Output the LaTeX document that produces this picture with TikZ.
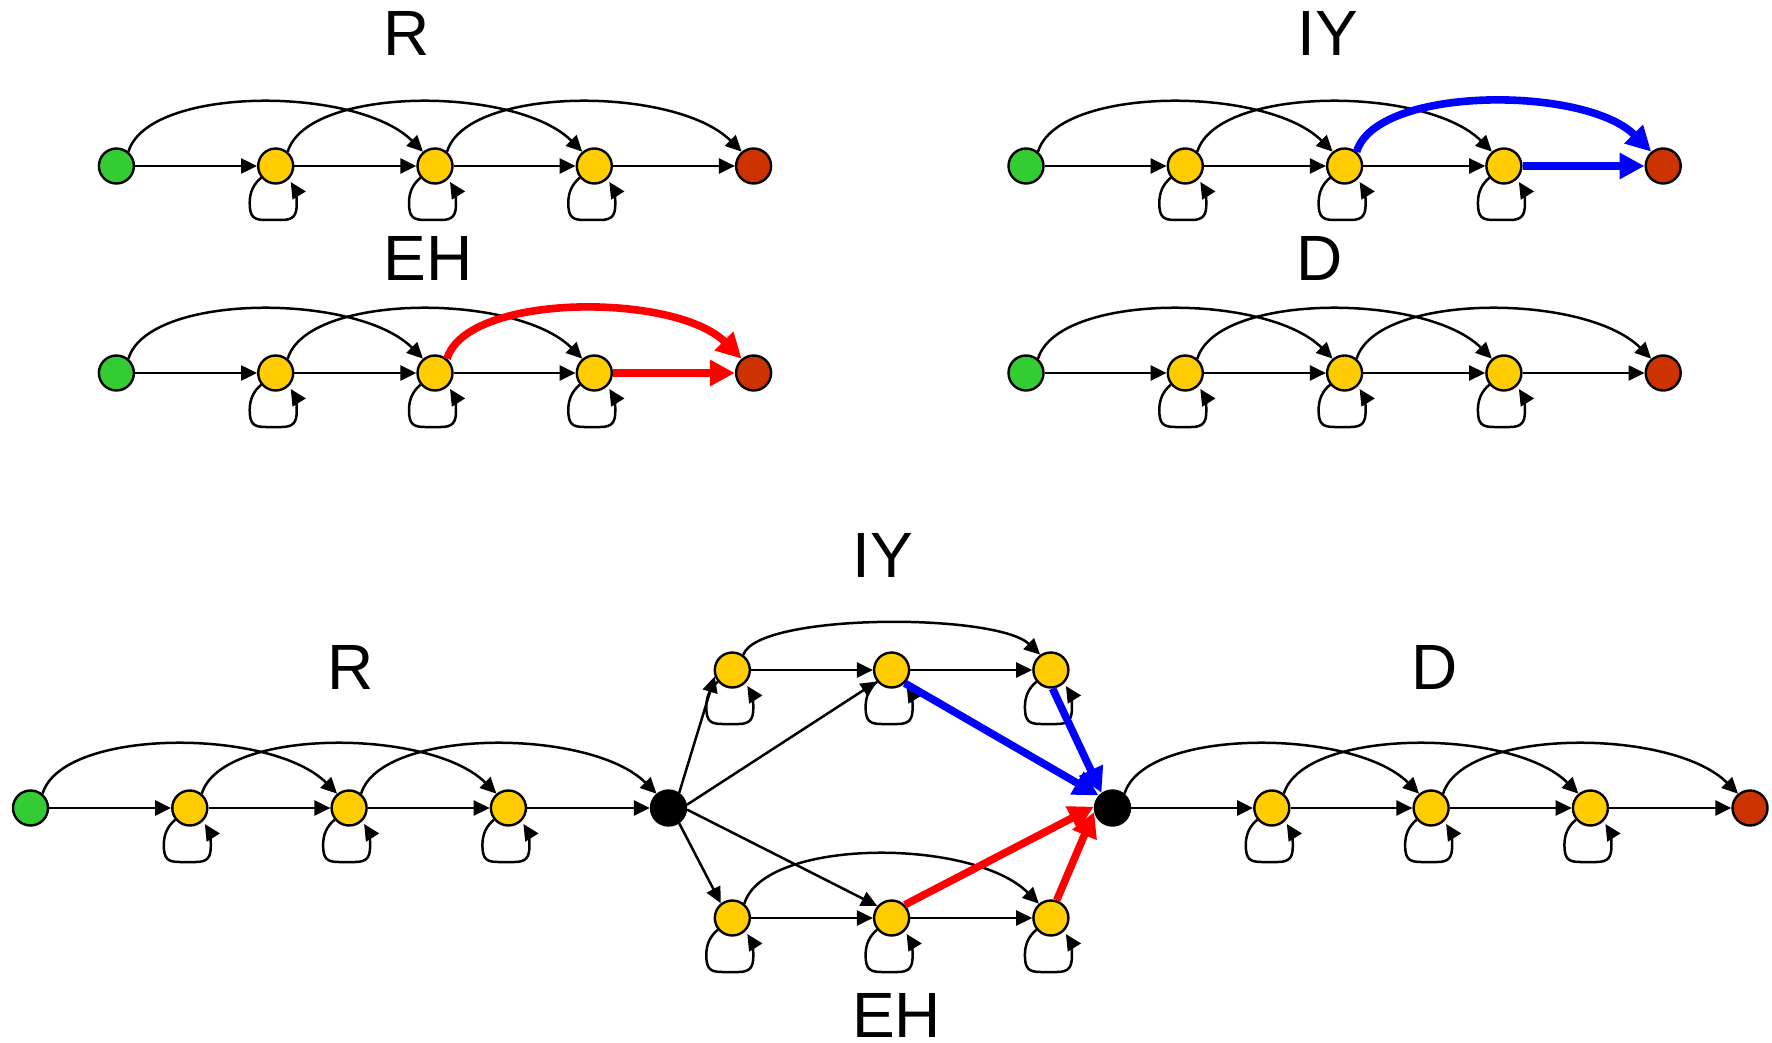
\documentclass[tikz,border=0pt]{standalone}
\usepackage{fontspec}
\setmainfont{Liberation Sans}
\usetikzlibrary{arrows.meta,calc}
\definecolor{ngreen}{HTML}{33CC33}
\definecolor{nyellow}{HTML}{FFCC00}
\definecolor{nred}{HTML}{CC3300}
\definecolor{hblue}{HTML}{0000FF}
\definecolor{hred}{HTML}{FF0000}
\newcommand\selfloop[1]{\draw[edge] (#1.219) .. controls ($(#1)+(-22,-18)$) and ($(#1)+(-26,-26)$) .. ($(#1)+(-26,-37)$) .. controls ($(#1)+(-26,-51)$) and ($(#1)+(-22,-54)$) .. ($(#1)+(-10,-54)$) -- ($(#1)+(6,-54)$) .. controls ($(#1)+(18,-54)$) and ($(#1)+(21,-49)$) .. ($(#1)+(21,-38)$) .. controls ($(#1)+(21,-30)$) and ($(#1)+(20,-24)$) .. ($(#1)+(15,-16)$);}
\newcommand\skiparc[3][edge]{\draw[#1] (#2.50) .. controls +(20,66) and +(-66,66) .. (#3.130);}
\begin{document}
\begin{tikzpicture}[x=0.5pt,y=0.5pt,
  st/.style={circle,draw=black,line width=1.2pt,minimum size=17.5pt,inner sep=0pt},
  gn/.style={st,fill=ngreen}, yn/.style={st,fill=nyellow}, rn/.style={st,fill=nred}, bn/.style={st,fill=black},
  edge/.style={line width=1.25pt,-{Triangle[length=8pt,width=7.5pt]}},
  hedge/.style={line width=3.8pt,-{Triangle[length=12.5pt,width=12.5pt]}},
  lab/.style={font=\fontsize{32}{38}\selectfont, inner sep=0pt}]
\useasboundingbox (0,0) rectangle (1772,-1043);
% ---------- four small models ----------
\foreach \p/\x/\y in {a/116.4/166, b/1026/166, c/116.4/373, d/1026/373} {
  \node[gn] (\p0) at (\x,-\y) {};
  \foreach \i in {1,2,3} {\node[yn] (\p\i) at (\x+159.3*\i,-\y) {};}
  \node[rn] (\p4) at (\x+4*159.3,-\y) {};
}
\node[lab] (tR) at (407,-33.5) {R};
\node[lab] (tIY) at (1328,-33.5) {IY};
\node[lab] (tEH) at (428,-258) {EH};
\node[lab] (tD) at (1320,-258) {D};
\foreach \p in {a,b,c,d} {
  \draw[edge] (\p0) -- (\p1);
  \draw[edge] (\p1) -- (\p2);
  \draw[edge] (\p2) -- (\p3);
  \skiparc{\p0}{\p2}
  \skiparc{\p1}{\p3}
  \selfloop{\p1}
  \selfloop{\p2}
  \selfloop{\p3}
}
\foreach \p in {a,d} {
  \draw[edge] (\p3) -- (\p4);
  \skiparc{\p2}{\p4}
}
\draw[hedge,hblue] (b3) -- (b4);
\skiparc[hedge,hblue]{b2}{b4}
\draw[hedge,hred] (c3) -- (c4);
\skiparc[hedge,hred]{c2}{c4}
% ---------- composed model ----------
\node[gn] (r0) at (30.5,-808) {};
\foreach \i in {1,2,3} {\node[yn] (r\i) at (30.5+159.3*\i,-808) {};}
\node[bn] (k1) at (668.5,-808) {};
\foreach \i in {1,2,3} {\node[yn] (i\i) at (732.3+159.3*\i-159.3,-670) {};}
\foreach \i in {1,2,3} {\node[yn] (e\i) at (732.3+159.3*\i-159.3,-918) {};}
\node[bn] (k2) at (1112.5,-808) {};
\foreach \i in {1,2,3} {\node[yn] (s\i) at (1112.5+159.3*\i,-808) {};}
\node[rn] (s4) at (1750,-808) {};
\node[lab] (bR) at (350.5,-667) {R};
\node[lab] (bIY) at (883,-555.5) {IY};
\node[lab] (bD) at (1435,-667) {D};
\node[lab] (bEH) at (896.7,-1015) {EH};
% R part
\draw[edge] (r0) -- (r1);
\draw[edge] (r1) -- (r2);
\draw[edge] (r2) -- (r3);
\draw[edge] (r3) -- (k1);
\skiparc{r0}{r2}
\skiparc{r1}{r3}
\skiparc{r2}{k1}
\selfloop{r1}\selfloop{r2}\selfloop{r3}
% branches
\draw[edge] (k1.55) -- (i1.200);
\draw[edge] (k1.10) -- (i2.218);
\draw[edge] (k1.-5) -- (e2.140);
\draw[edge] (k1.-55) -- (e1.128);
% IY part
\draw[edge] (i1) -- (i2);
\draw[edge] (i2) -- (i3);
\draw[edge] (i1.54) .. controls +(14,42) and +(-44,42) .. (i3.125);
\selfloop{i1}\selfloop{i2}\selfloop{i3}
% EH part
\draw[edge] (e1) -- (e2);
\draw[edge] (e2) -- (e3);
\skiparc{e1}{e3}
\selfloop{e1}\selfloop{e2}\selfloop{e3}
% D part
\draw[edge] (k2) -- (s1);
\draw[edge] (s1) -- (s2);
\draw[edge] (s2) -- (s3);
\draw[edge] (s3) -- (s4);
\skiparc{k2}{s2}
\skiparc{s1}{s3}
\skiparc{s2}{s4}
\selfloop{s1}\selfloop{s2}\selfloop{s3}
% highlighted paths
\draw[hedge,hblue] (i2.-45) -- (k2.138);
\draw[hedge,hblue] (i3.-85) -- (k2.126);
\draw[hedge,hred] (e2.45) -- (k2.176);
\draw[hedge,hred] (e3.72) -- (k2.192);
\end{tikzpicture}
\end{document}
